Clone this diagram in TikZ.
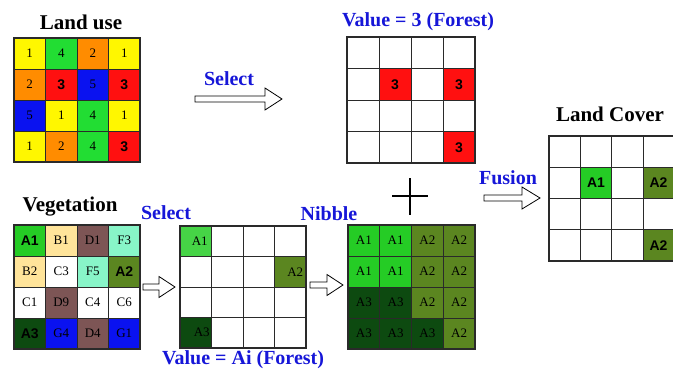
\documentclass[tikz,border=0pt]{standalone}
\usepackage{fontspec}
\setmainfont{Liberation Serif}
\newfontfamily\heavysans{Liberation Sans}
\usetikzlibrary{calc}

% palette
\definecolor{gridline}{HTML}{2A2A2A}
\definecolor{labelblue}{HTML}{1616D8}
\definecolor{luyellow}{HTML}{FFF700}
\definecolor{lugreen}{HTML}{22DD33}
\definecolor{luorange}{HTML}{FF8C00}
\definecolor{lured}{HTML}{FF1010}
\definecolor{lublue}{HTML}{0A12F0}
\definecolor{vtan}{HTML}{FFE49A}
\definecolor{vmauve}{HTML}{7D5555}
\definecolor{vaqua}{HTML}{88F5C8}
\definecolor{fgreen}{HTML}{25CC25}
\definecolor{folive}{HTML}{5B8620}
\definecolor{fdark}{HTML}{0D4A10}

\tikzset{
  title/.style={font=\bfseries\fontsize{21}{23}\selectfont, inner sep=0pt},
  bluelabel/.style={font=\bfseries\fontsize{20}{22}\selectfont, text=labelblue, inner sep=0pt},
  cellbox/.style 2 args={draw=gridline, line width=0.8pt, minimum width=#1, minimum height=#2,
    inner sep=0pt, outer sep=0pt, font=\fontsize{13}{13}\selectfont},
  boldtag/.style={font=\heavysans\bfseries\fontsize{14}{14}\selectfont},
  frame/.style={draw=gridline, line width=1.2pt},
  hollow/.style={draw=black, line width=0.8pt, fill=white, line join=miter},
}

% grid geometry: origin (top-left) and cell size in pt
\newcommand\setraster[4]{\def\gridX{#1}\def\gridY{#2}\def\cellW{#3}\def\cellH{#4}}
% one raster cell: name, column, row, fill, text, extra style
\newcommand\rastercell[6]{%
  \node[cellbox={\cellW pt}{\cellH pt}, fill=#4, #6] (#1)
    at ({\gridX+\cellW*(#2-0.5)}, {\gridY+\cellH*(#3-0.5)}) {#5};}
\newcommand\rasterframe{\draw[frame] (\gridX,\gridY) rectangle ++({4*\cellW},{4*\cellH});}
% hollow block arrow between two named points: start, end, head length, half head width
\newcommand\hollowarrow[4]{%
  \draw[hollow] let \p1=(#1), \p2=(#2) in
    (\x1,\y1+3pt) -- (\x2-#3,\y1+3pt) -- (\x2-#3,\y1+#4) -- (\x2,\y1)
    -- (\x2-#3,\y1-#4) -- (\x2-#3,\y1-3pt) -- (\x1,\y1-3pt) -- cycle;}

\begin{document}
\begin{tikzpicture}[x=1pt, y=-1pt]
\useasboundingbox (0,0) rectangle (673,372);

% ---------- Land use ----------
\node[title] (lutitle) at (81,22) {Land use};
\setraster{14}{38}{31.5}{31}
\foreach \c/\r/\f/\t/\s in {
  1/1/luyellow/1/{}, 2/1/lugreen/4/{}, 3/1/luorange/2/{}, 4/1/luyellow/1/{},
  1/2/luorange/2/{}, 2/2/lured/3/boldtag, 3/2/lublue/5/{}, 4/2/lured/3/boldtag,
  1/3/lublue/5/{}, 2/3/luyellow/1/{}, 3/3/lugreen/4/{}, 4/3/luyellow/1/{},
  1/4/luyellow/1/{}, 2/4/luorange/2/{}, 3/4/lugreen/4/{}, 4/4/lured/3/boldtag}
  {\rastercell{lu-\r-\c}{\c}{\r}{\f}{\t}{\s}}
\rasterframe

% ---------- Value = 3 ----------
\node[bluelabel] (v3title) at (418,22) {Value = 3 (Forest)};
\setraster{347}{37}{32}{31.5}
\foreach \c/\r/\f/\t/\s in {
  1/1/white//{}, 2/1/white//{}, 3/1/white//{}, 4/1/white//{},
  1/2/white//{}, 2/2/lured/3/boldtag, 3/2/white//{}, 4/2/lured/3/boldtag,
  1/3/white//{}, 2/3/white//{}, 3/3/white//{}, 4/3/white//{},
  1/4/white//{}, 2/4/white//{}, 3/4/white//{}, 4/4/lured/3/boldtag}
  {\rastercell{v3-\r-\c}{\c}{\r}{\f}{\t}{\s}}
\rasterframe

% select arrow (top)
\node[bluelabel] (seltop) at (229,79) {Select};
\coordinate (selAs) at (195,99);
\coordinate (selAe) at (282,99);
\hollowarrow{selAs}{selAe}{17pt}{11pt}

% ---------- Vegetation ----------
\node[title] (vegtitle) at (70,207) {Vegetation};
\setraster{14}{225}{31.5}{31}
\foreach \c/\r/\f/\t/\s in {
  1/1/fgreen/A1/boldtag, 2/1/vtan/B1/{}, 3/1/vmauve/D1/{}, 4/1/vaqua/F3/{},
  1/2/vtan/B2/{}, 2/2/white/C3/{}, 3/2/vaqua/F5/{}, 4/2/folive/A2/boldtag,
  1/3/white/C1/{}, 2/3/vmauve/D9/{}, 3/3/white/C4/{}, 4/3/white/C6/{},
  1/4/fdark/A3/boldtag, 2/4/lublue/G4/{}, 3/4/vmauve/D4/{}, 4/4/lublue/G1/{}}
  {\rastercell{veg-\r-\c}{\c}{\r}{\f}{\t}{\s}}
\rasterframe

\coordinate (selBs) at (143,287);
\coordinate (selBe) at (175,287);
\hollowarrow{selBs}{selBe}{16pt}{10.5pt}

% ---------- Select (Ai) ----------
\node[bluelabel] (selbot) at (166,213) {Select};
\node[bluelabel] (vaititle) at (243,360) {Value = Ai (Forest)};
\setraster{180}{226}{31.5}{30.5}
\foreach \c/\r/\f/\t/\s in {
  1/1/fgreen!85!white/{\hspace*{8pt}A1}/{}, 2/1/white//{}, 3/1/white//{}, 4/1/white//{},
  1/2/white//{}, 2/2/white//{}, 3/2/white//{}, 4/2/folive/{\hspace*{10pt}A2}/{},
  1/3/white//{}, 2/3/white//{}, 3/3/white//{}, 4/3/white//{},
  1/4/fdark/{\hspace*{12pt}A3}/{}, 2/4/white//{}, 3/4/white//{}, 4/4/white//{}}
  {\rastercell{sel-\r-\c}{\c}{\r}{\f}{\t}{\s}}
\rasterframe

\coordinate (nibs) at (310,285);
\coordinate (nibe) at (343,285);
\hollowarrow{nibs}{nibe}{16pt}{10.5pt}

% ---------- Nibble ----------
\node[bluelabel] (nibtitle) at (329,214) {Nibble};
\setraster{348}{225}{31.75}{31}
\foreach \c/\r/\f/\t in {
  1/1/fgreen/A1, 2/1/fgreen/A1, 3/1/folive/A2, 4/1/folive/A2,
  1/2/fgreen/A1, 2/2/fgreen/A1, 3/2/folive/A2, 4/2/folive/A2,
  1/3/fdark/A3, 2/3/fdark/A3, 3/3/folive/A2, 4/3/folive/A2,
  1/4/fdark/A3, 2/4/fdark/A3, 3/4/fdark/A3, 4/4/folive/A2}
  {\rastercell{nib-\r-\c}{\c}{\r}{\f}{\t}{}}
\rasterframe

% plus sign
\coordinate (plusT) at (410,178);
\coordinate (plusB) at (410,215);
\coordinate (plusL) at (392,196);
\coordinate (plusR) at (428,196);
\draw[line width=2.4pt] (plusT) -- (plusB) (plusL) -- (plusR);

% fusion arrow
\node[bluelabel] (fustitle) at (508,178) {Fusion};
\coordinate (fuss) at (484,198);
\coordinate (fuse) at (540,198);
\hollowarrow{fuss}{fuse}{18pt}{11pt}

% ---------- Land Cover ----------
\node[title] (lctitle) at (610,114) {Land Cover};
\setraster{549}{136}{31.3}{31.25}
\foreach \c/\r/\f/\t/\s in {
  1/1/white//{}, 2/1/white//{}, 3/1/white//{}, 4/1/white//{},
  1/2/white//{}, 2/2/fgreen/A1/boldtag, 3/2/white//{}, 4/2/folive/A2/boldtag,
  1/3/white//{}, 2/3/white//{}, 3/3/white//{}, 4/3/white//{},
  1/4/white//{}, 2/4/white//{}, 3/4/white//{}, 4/4/folive/A2/boldtag}
  {\rastercell{lc-\r-\c}{\c}{\r}{\f}{\t}{\s}}
\rasterframe
\end{tikzpicture}
\end{document}
